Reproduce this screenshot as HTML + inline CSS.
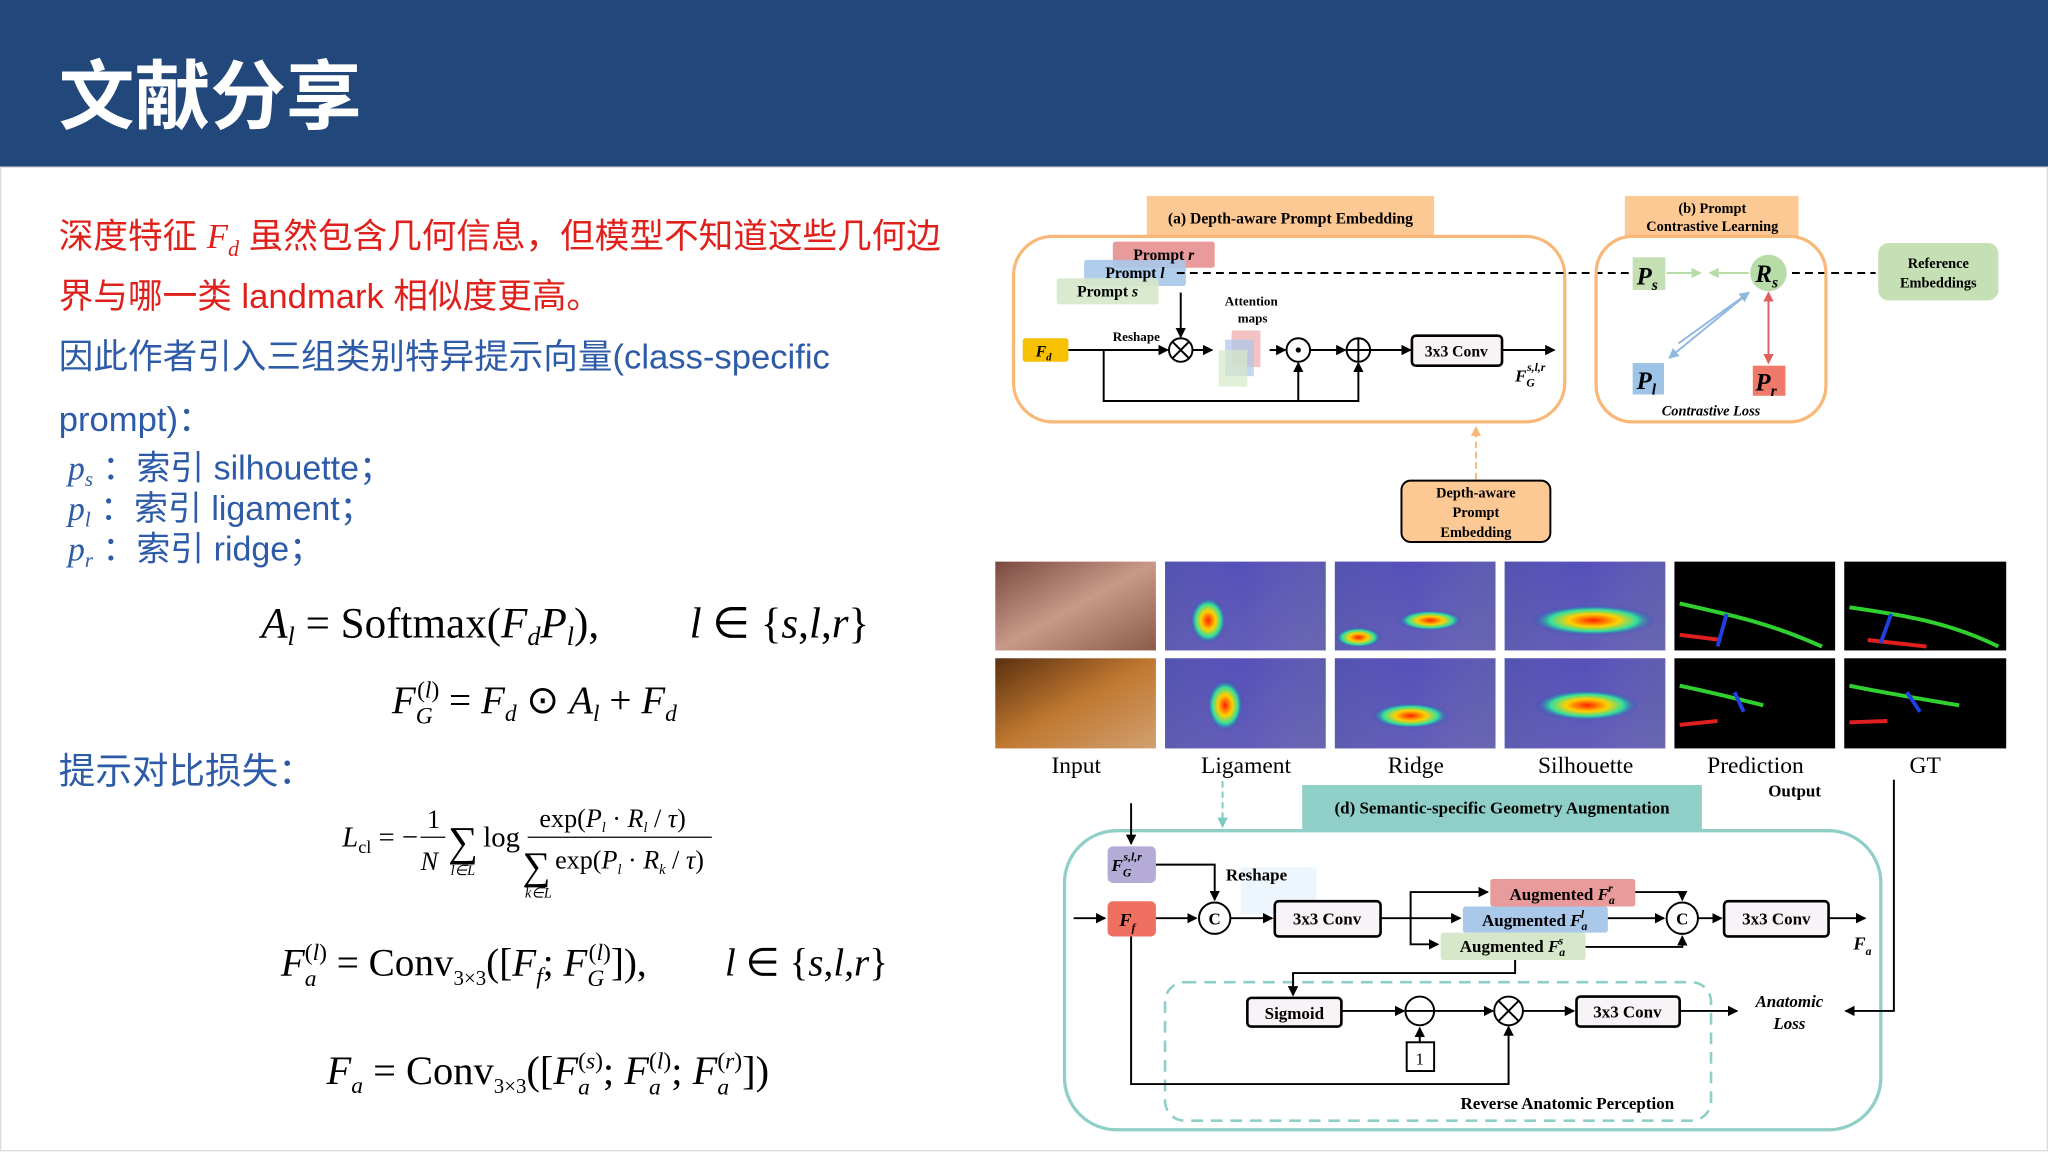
<!DOCTYPE html>
<html><head><meta charset="utf-8"><style>
html,body{margin:0;padding:0;background:#fff;}
svg{display:block;}
.cn{font-family:"Liberation Sans","Noto Sans CJK SC",sans-serif;}
.m{font-family:"Liberation Serif",serif;}
.d{font-family:"Liberation Serif",serif;font-weight:bold;}
</style></head><body>
<svg width="2048" height="1152" viewBox="0 0 1568 882" xmlns="http://www.w3.org/2000/svg">
<defs>
<marker id="ah" markerWidth="8" markerHeight="8" refX="7" refY="4" orient="auto" markerUnits="userSpaceOnUse"><path d="M0,0 L8,4 L0,8 Z" fill="#000"/></marker>
<marker id="ab" markerWidth="8" markerHeight="8" refX="7" refY="4" orient="auto" markerUnits="userSpaceOnUse"><path d="M0,0 L8,4 L0,8 Z" fill="#8fb8e0"/></marker>
<marker id="ar" markerWidth="8" markerHeight="8" refX="7" refY="4" orient="auto" markerUnits="userSpaceOnUse"><path d="M0,0 L8,4 L0,8 Z" fill="#e06060"/></marker>
<marker id="ag" markerWidth="8" markerHeight="8" refX="7" refY="4" orient="auto" markerUnits="userSpaceOnUse"><path d="M0,0 L8,4 L0,8 Z" fill="#b8dca8"/></marker>
<marker id="ao" markerWidth="8" markerHeight="8" refX="7" refY="4" orient="auto" markerUnits="userSpaceOnUse"><path d="M0,0 L8,4 L0,8 Z" fill="#f7b878"/></marker>
<marker id="at" markerWidth="8" markerHeight="8" refX="7" refY="4" orient="auto" markerUnits="userSpaceOnUse"><path d="M0,0 L8,4 L0,8 Z" fill="#7ccac2"/></marker>
<radialGradient id="hot"><stop offset="0" stop-color="#ff2000"/><stop offset="0.4" stop-color="#ffd000"/><stop offset="0.7" stop-color="#30e0a0"/><stop offset="1" stop-color="#3030c0" stop-opacity="0"/></radialGradient>
<linearGradient id="heat" x1="0" y1="0" x2="1" y2="1"><stop offset="0" stop-color="#3a3ab8"/><stop offset="1" stop-color="#5a58b8"/></linearGradient>
<linearGradient id="inp1" x1="0" y1="0" x2="1" y2="1"><stop offset="0" stop-color="#7a4a40"/><stop offset="0.5" stop-color="#c89888"/><stop offset="1" stop-color="#8a5a4a"/></linearGradient>
<linearGradient id="inp2" x1="0" y1="0" x2="1" y2="1"><stop offset="0" stop-color="#5a3010"/><stop offset="0.5" stop-color="#c07830"/><stop offset="1" stop-color="#d0a070"/></linearGradient>
<linearGradient id="tis" x1="0" y1="0" x2="1" y2="0"><stop offset="0" stop-color="#8080a0" stop-opacity="0.35"/><stop offset="0.5" stop-color="#c0a0c0" stop-opacity="0.15"/><stop offset="1" stop-color="#8080a0" stop-opacity="0.35"/></linearGradient>
</defs>
<rect x="0" y="0" width="1568" height="128" fill="#21477b"/>
<text x="45" y="94" class="cn" font-size="58" font-weight="bold" fill="#fff">文献分享</text>
<rect x="0.5" y="128" width="1567" height="753" fill="none" stroke="#ddd" stroke-width="1"/>
<text x="45" y="190" class="cn" font-size="26.5" fill="#e0201b">深度特征 <tspan class="m" font-style="italic">F</tspan><tspan class="m" font-style="italic" font-size="17" dy="6">d</tspan><tspan dy="-6"> 虽然包含几何信息，但模型不知道这些几何边</tspan></text>
<text x="45" y="236" class="cn" font-size="26.5" fill="#e0201b">界与哪一类 landmark 相似度更高。</text>
<text x="45" y="282" class="cn" font-size="26.5" fill="#2e5ba8">因此作者引入三组类别特异提示向量(class-specific</text>
<text x="45" y="330" class="cn" font-size="26.5" fill="#2e5ba8">prompt)：</text>
<g class="cn" font-size="26" fill="#2e5ba8">
<text x="52" y="367"><tspan class="m" font-style="italic">p</tspan><tspan class="m" font-style="italic" font-size="16" dy="5">s</tspan><tspan dy="-5"> ：索引 silhouette；</tspan></text>
<text x="52" y="398"><tspan class="m" font-style="italic">p</tspan><tspan class="m" font-style="italic" font-size="16" dy="5">l</tspan><tspan dy="-5"> ：索引 ligament；</tspan></text>
<text x="52" y="429"><tspan class="m" font-style="italic">p</tspan><tspan class="m" font-style="italic" font-size="16" dy="5">r</tspan><tspan dy="-5"> ：索引 ridge；</tspan></text>
</g>
<text x="45" y="600" class="cn" font-size="28" fill="#2e5ba8">提示对比损失：</text>
<g class="m" fill="#000">
<text x="200" y="488" font-size="33"><tspan font-style="italic">A</tspan><tspan font-style="italic" font-size="20" dy="6">l</tspan><tspan dy="-6"> = Softmax(</tspan><tspan font-style="italic">F</tspan><tspan font-style="italic" font-size="20" dy="6">d</tspan><tspan font-style="italic" dy="-6">P</tspan><tspan font-style="italic" font-size="20" dy="6">l</tspan><tspan dy="-6">),</tspan></text>
<text x="528" y="488" font-size="33"><tspan font-style="italic">l</tspan> ∈ {<tspan font-style="italic">s</tspan>,<tspan font-style="italic">l</tspan>,<tspan font-style="italic">r</tspan>}</text>
<text x="300" y="546" font-size="30"><tspan font-style="italic">F</tspan><tspan font-style="italic" font-size="18" dy="8">G</tspan><tspan font-size="18" dy="-20" dx="-12">(<tspan font-style="italic">l</tspan>)</tspan><tspan dy="12"> = </tspan><tspan font-style="italic">F</tspan><tspan font-style="italic" font-size="18" dy="6">d</tspan><tspan dy="-6"> ⊙ </tspan><tspan font-style="italic">A</tspan><tspan font-style="italic" font-size="18" dy="6">l</tspan><tspan dy="-6"> + </tspan><tspan font-style="italic">F</tspan><tspan font-style="italic" font-size="18" dy="6">d</tspan></text>
<text x="262" y="648" font-size="22"><tspan font-style="italic">L</tspan><tspan font-size="14" dy="5">cl</tspan><tspan dy="-5"> = −</tspan></text>
<text x="327" y="634" font-size="20">1</text>
<line x1="322" y1="641" x2="341" y2="641" stroke="#000" stroke-width="1"/>
<text x="322" y="666" font-size="20" font-style="italic">N</text>
<text x="343" y="655" font-size="32">∑</text>
<text x="345" y="670" font-size="11" font-style="italic">l∈L</text>
<text x="370" y="648" font-size="22">log</text>
<text x="413" y="633" font-size="20">exp(<tspan font-style="italic">P</tspan><tspan font-size="11" font-style="italic" dy="4">l</tspan><tspan dy="-4"> · </tspan><tspan font-style="italic">R</tspan><tspan font-size="11" font-style="italic" dy="4">l</tspan><tspan dy="-4"> / </tspan><tspan font-style="italic">τ</tspan>)</text>
<line x1="404" y1="641" x2="545" y2="641" stroke="#000" stroke-width="1"/>
<text x="400" y="673" font-size="30">∑</text>
<text x="402" y="687" font-size="11" font-style="italic">k∈L</text>
<text x="425" y="665" font-size="20">exp(<tspan font-style="italic">P</tspan><tspan font-size="11" font-style="italic" dy="4">l</tspan><tspan dy="-4"> · </tspan><tspan font-style="italic">R</tspan><tspan font-size="11" font-style="italic" dy="4">k</tspan><tspan dy="-4"> / </tspan><tspan font-style="italic">τ</tspan>)</text>
<text x="215" y="747" font-size="30"><tspan font-style="italic">F</tspan><tspan font-style="italic" font-size="18" dy="8">a</tspan><tspan font-size="18" dy="-20" dx="-9">(<tspan font-style="italic">l</tspan>)</tspan><tspan dy="12"> = Conv</tspan><tspan font-size="16" dy="7">3×3</tspan><tspan dy="-7">([</tspan><tspan font-style="italic">F</tspan><tspan font-style="italic" font-size="18" dy="6">f</tspan><tspan dy="-6">; </tspan><tspan font-style="italic">F</tspan><tspan font-style="italic" font-size="18" dy="8">G</tspan><tspan font-size="18" dy="-20" dx="-12">(<tspan font-style="italic">l</tspan>)</tspan><tspan dy="12">]),</tspan></text>
<text x="555" y="747" font-size="30"><tspan font-style="italic">l</tspan> ∈ {<tspan font-style="italic">s</tspan>,<tspan font-style="italic">l</tspan>,<tspan font-style="italic">r</tspan>}</text>
<text x="250" y="830" font-size="31"><tspan font-style="italic">F</tspan><tspan font-style="italic" font-size="18" dy="7">a</tspan><tspan dy="-7"> = Conv</tspan><tspan font-size="16" dy="7">3×3</tspan><tspan dy="-7">([</tspan><tspan font-style="italic">F</tspan><tspan font-style="italic" font-size="18" dy="8">a</tspan><tspan font-size="18" dy="-20" dx="-9">(<tspan font-style="italic">s</tspan>)</tspan><tspan dy="12">; </tspan><tspan font-style="italic">F</tspan><tspan font-style="italic" font-size="18" dy="8">a</tspan><tspan font-size="18" dy="-20" dx="-9">(<tspan font-style="italic">l</tspan>)</tspan><tspan dy="12">; </tspan><tspan font-style="italic">F</tspan><tspan font-style="italic" font-size="18" dy="8">a</tspan><tspan font-size="18" dy="-20" dx="-9">(<tspan font-style="italic">r</tspan>)</tspan><tspan dy="12">])</tspan></text>
</g>

<rect x="878" y="150" width="220" height="31" fill="#fcc894"/>
<text x="988" y="171" class="d" font-size="12" text-anchor="middle">(a) Depth-aware Prompt Embedding</text>
<rect x="776" y="181" width="422" height="142" rx="30" fill="none" stroke="#f7b878" stroke-width="2.5"/>
<rect x="852" y="185" width="78" height="20" rx="2" fill="#e99b9b"/>
<rect x="830" y="199" width="78" height="20" rx="2" fill="#a9c8ea" opacity="0.9"/>
<rect x="809" y="213" width="78" height="20" rx="2" fill="#d6e8c9" opacity="0.9"/>
<text x="891" y="199" class="d" font-size="12" text-anchor="middle">Prompt <tspan font-style="italic">r</tspan></text>
<text x="869" y="213" class="d" font-size="12" text-anchor="middle">Prompt <tspan font-style="italic">l</tspan></text>
<text x="848" y="227" class="d" font-size="12" text-anchor="middle">Prompt <tspan font-style="italic">s</tspan></text>
<line x1="901" y1="209" x2="1248" y2="209" stroke="#000" stroke-width="1.5" stroke-dasharray="6,4"/>
<line x1="1372" y1="209" x2="1436" y2="209" stroke="#000" stroke-width="1.5" stroke-dasharray="6,4"/>
<rect x="783" y="259" width="35" height="18" rx="2" fill="#f7c000"/>
<text x="793" y="273" class="d" font-size="12" font-style="italic">F<tspan font-size="8" dy="3">d</tspan></text>
<g stroke="#000" stroke-width="1.5" fill="none">
<line x1="818" y1="268" x2="894" y2="268" marker-end="url(#ah)"/>
<line x1="904" y1="224" x2="904" y2="258" marker-end="url(#ah)"/>
<circle cx="904" cy="268" r="9" fill="#fff"/><path d="M898,262 L910,274 M910,262 L898,274"/>
<line x1="913" y1="268" x2="928" y2="268" marker-end="url(#ah)"/>
<line x1="972" y1="268" x2="984" y2="268" marker-end="url(#ah)"/>
<circle cx="994" cy="268" r="9" fill="#fff"/>
<line x1="1003" y1="268" x2="1030" y2="268" marker-end="url(#ah)"/>
<circle cx="1040" cy="268" r="9" fill="#fff"/><path d="M1031,268 H1049 M1040,259 V277"/>
<line x1="1049" y1="268" x2="1080" y2="268" marker-end="url(#ah)"/>
<path d="M845,268 V307 H1040 V278" marker-end="url(#ah)"/>
<line x1="994" y1="307" x2="994" y2="278" marker-end="url(#ah)"/>
<line x1="1150" y1="268" x2="1190" y2="268" marker-end="url(#ah)"/>
<rect x="1081" y="257" width="69" height="23" rx="3" fill="#f7f3f7" stroke-width="2"/>
</g>
<circle cx="994" cy="268" r="2" fill="#000"/>
<rect x="943" y="253" width="22" height="28" fill="#f0a8a8" opacity="0.7"/>
<rect x="938" y="260" width="22" height="28" fill="#a9c8ea" opacity="0.7"/>
<rect x="933" y="268" width="22" height="28" fill="#d6e8c9" opacity="0.7"/>
<text x="870" y="261" class="d" font-size="10" text-anchor="middle">Reshape</text>
<text x="958" y="234" class="d" font-size="10" text-anchor="middle">Attention</text>
<text x="959" y="247" class="d" font-size="10" text-anchor="middle">maps</text>
<text x="1115" y="273" class="d" font-size="12" text-anchor="middle">3x3 Conv</text>
<text x="1160" y="292" class="d" font-size="13" font-style="italic">F<tspan font-size="9" dy="4">G</tspan><tspan font-size="9" dy="-12" dx="-6">s,l,r</tspan></text>
<rect x="1244" y="150" width="133" height="32" fill="#fcc894"/>
<text x="1311" y="163" class="d" font-size="11" text-anchor="middle">(b) Prompt</text>
<text x="1311" y="177" class="d" font-size="11" text-anchor="middle">Contrastive Learning</text>
<rect x="1222" y="181" width="176" height="142" rx="28" fill="none" stroke="#f7b878" stroke-width="2.5"/>
<rect x="1250" y="197" width="25" height="25" fill="#c5dfb4"/>
<text x="1253" y="218" class="d" font-size="19" font-style="italic">P<tspan font-size="12" dy="4">s</tspan></text>
<circle cx="1354" cy="209" r="14" fill="#b8dca8"/>
<text x="1344" y="216" class="d" font-size="19" font-style="italic">R<tspan font-size="12" dy="4">s</tspan></text>
<line x1="1276" y1="209" x2="1302" y2="209" stroke="#b8dca8" stroke-width="1.5" marker-end="url(#ag)"/>
<line x1="1339" y1="209" x2="1309" y2="209" stroke="#b8dca8" stroke-width="1.5" marker-end="url(#ag)"/>
<rect x="1250" y="278" width="24" height="24" fill="#9dc3e6"/>
<text x="1253" y="298" class="d" font-size="19" font-style="italic">P<tspan font-size="12" dy="4">l</tspan></text>
<rect x="1342" y="280" width="25" height="23" fill="#ef7a6a"/>
<text x="1344" y="299" class="d" font-size="19" font-style="italic">P<tspan font-size="12" dy="4">r</tspan></text>
<line x1="1285" y1="263" x2="1339" y2="224" stroke="#8fb8e0" stroke-width="1.5" marker-end="url(#ab)"/>
<line x1="1339" y1="224" x2="1278" y2="274" stroke="#8fb8e0" stroke-width="1.5" marker-end="url(#ab)"/>
<line x1="1354" y1="240" x2="1354" y2="224" stroke="#e06060" stroke-width="1.5" marker-end="url(#ar)"/>
<line x1="1354" y1="240" x2="1354" y2="278" stroke="#e06060" stroke-width="1.5" marker-end="url(#ar)"/>
<text x="1310" y="318" class="m" font-size="11" font-style="italic" font-weight="bold" text-anchor="middle">Contrastive Loss</text>
<rect x="1438" y="186" width="92" height="44" rx="8" fill="#c5e0b4"/>
<text x="1484" y="205" class="d" font-size="11" text-anchor="middle">Reference</text>
<text x="1484" y="220" class="d" font-size="11" text-anchor="middle">Embeddings</text>
<line x1="1130" y1="367" x2="1130" y2="327" stroke="#f7b878" stroke-width="1.5" stroke-dasharray="5,3" marker-end="url(#ao)"/>
<rect x="1073" y="368" width="114" height="47" rx="7" fill="#fcc894" stroke="#000" stroke-width="1.5"/>
<text x="1130" y="381" class="d" font-size="11" text-anchor="middle">Depth-aware</text>
<text x="1130" y="396" class="d" font-size="11" text-anchor="middle">Prompt</text>
<text x="1130" y="411" class="d" font-size="11" text-anchor="middle">Embedding</text>
<rect x="762" y="430" width="123" height="68" fill="url(#inp1)"/>
<rect x="762" y="504" width="123" height="69" fill="url(#inp2)"/>
<g>
<rect x="892" y="430" width="123" height="68" fill="url(#heat)"/><rect x="892" y="430" width="123" height="68" fill="url(#tis)"/><ellipse cx="925" cy="475" rx="14" ry="18" fill="url(#hot)"/>
<rect x="892" y="504" width="123" height="69" fill="url(#heat)"/><rect x="892" y="504" width="123" height="69" fill="url(#tis)"/><ellipse cx="938" cy="540" rx="14" ry="20" fill="url(#hot)"/>
<rect x="1022" y="430" width="123" height="68" fill="url(#heat)"/><rect x="1022" y="430" width="123" height="68" fill="url(#tis)"/><ellipse cx="1040" cy="488" rx="18" ry="8" fill="url(#hot)"/><ellipse cx="1095" cy="475" rx="25" ry="8" fill="url(#hot)"/>
<rect x="1022" y="504" width="123" height="69" fill="url(#heat)"/><rect x="1022" y="504" width="123" height="69" fill="url(#tis)"/><ellipse cx="1080" cy="548" rx="30" ry="10" fill="url(#hot)"/>
<rect x="1152" y="430" width="123" height="68" fill="url(#heat)"/><rect x="1152" y="430" width="123" height="68" fill="url(#tis)"/><ellipse cx="1220" cy="475" rx="48" ry="12" fill="url(#hot)"/>
<rect x="1152" y="504" width="123" height="69" fill="url(#heat)"/><rect x="1152" y="504" width="123" height="69" fill="url(#tis)"/><ellipse cx="1215" cy="540" rx="40" ry="12" fill="url(#hot)"/>
</g>
<g fill="none" stroke-width="3">
<rect x="1282" y="430" width="123" height="68" fill="#000" stroke="none"/>
<path d="M1286,462 C1320,470 1350,475 1395,495" stroke="#30d030"/><path d="M1286,486 L1318,490" stroke="#e02020"/><path d="M1315,495 L1322,470" stroke="#2040e0"/>
<rect x="1412" y="430" width="124" height="68" fill="#000" stroke="none"/>
<path d="M1416,465 C1450,470 1490,475 1530,495" stroke="#30d030"/><path d="M1430,490 L1475,495" stroke="#e02020"/><path d="M1440,492 L1448,470" stroke="#2040e0"/>
<rect x="1282" y="504" width="123" height="69" fill="#000" stroke="none"/>
<path d="M1286,525 C1310,530 1330,535 1350,540" stroke="#30d030"/><path d="M1286,555 L1315,552" stroke="#e02020"/><path d="M1328,530 L1335,545" stroke="#2040e0"/>
<rect x="1412" y="504" width="124" height="69" fill="#000" stroke="none"/>
<path d="M1416,525 C1440,530 1470,535 1500,540" stroke="#30d030"/><path d="M1416,553 L1445,552" stroke="#e02020"/><path d="M1460,530 L1470,545" stroke="#2040e0"/>
</g>
<g class="m" font-size="18" text-anchor="middle">
<text x="824" y="592">Input</text><text x="954" y="592">Ligament</text><text x="1084" y="592">Ridge</text><text x="1214" y="592">Silhouette</text><text x="1344" y="592">Prediction</text><text x="1474" y="592">GT</text>
</g>
<text x="1374" y="610" class="d" font-size="13" text-anchor="middle">Output</text>
<rect x="997" y="601" width="306" height="34" fill="#8fcfc8"/>
<text x="1150" y="623" class="d" font-size="13" text-anchor="middle">(d) Semantic-specific Geometry Augmentation</text>
<rect x="815" y="636" width="625" height="229" rx="40" fill="none" stroke="#8fcfc8" stroke-width="2.5"/>
<line x1="936" y1="598" x2="936" y2="633" stroke="#7ccac2" stroke-width="1.5" stroke-dasharray="5,3" marker-end="url(#at)"/>
<rect x="892" y="752" width="418" height="106" rx="15" fill="none" stroke="#8fcfc8" stroke-width="2" stroke-dasharray="9,6"/>
<rect x="950" y="664" width="58" height="36" fill="#eaf4fd" opacity="0.8"/>
<rect x="848" y="648" width="37" height="28" rx="4" fill="#b4acd6"/>
<text x="851" y="667" class="d" font-size="13" font-style="italic">F<tspan font-size="9" dy="4">G</tspan><tspan font-size="9" dy="-12" dx="-6">s,l,r</tspan></text>
<rect x="848" y="690" width="37" height="27" rx="4" fill="#ef7060"/>
<text x="857" y="709" class="d" font-size="14" font-style="italic">F<tspan font-size="9" dy="4">f</tspan></text>
<rect x="1141" y="673" width="111" height="21" rx="2" fill="#e99b9b"/>
<rect x="1120" y="694" width="111" height="20" rx="2" fill="#a9c8ea"/>
<rect x="1103" y="714" width="111" height="21" rx="2" fill="#d6e8c9"/>
<g class="d" font-size="13" text-anchor="middle">
<text x="1196" y="689">Augmented <tspan font-style="italic">F</tspan><tspan font-style="italic" font-size="9" dy="3">a</tspan><tspan font-style="italic" font-size="9" dy="-9" dx="-5">r</tspan></text>
<text x="1175" y="709">Augmented <tspan font-style="italic">F</tspan><tspan font-style="italic" font-size="9" dy="3">a</tspan><tspan font-style="italic" font-size="9" dy="-9" dx="-5">l</tspan></text>
<text x="1158" y="729">Augmented <tspan font-style="italic">F</tspan><tspan font-style="italic" font-size="9" dy="3">a</tspan><tspan font-style="italic" font-size="9" dy="-9" dx="-5">s</tspan></text>
</g>
<g stroke="#000" stroke-width="1.5" fill="none">
<line x1="866" y1="615" x2="866" y2="646" marker-end="url(#ah)"/>
<line x1="822" y1="703" x2="846" y2="703" marker-end="url(#ah)"/>
<line x1="885" y1="703" x2="916" y2="703" marker-end="url(#ah)"/>
<path d="M885,662 H930 V689" marker-end="url(#ah)"/>
<circle cx="930" cy="703" r="12" fill="#fff"/>
<line x1="942" y1="703" x2="974" y2="703" marker-end="url(#ah)"/>
<rect x="976" y="690" width="81" height="27" rx="3" fill="#f7f3f7" stroke-width="2"/>
<line x1="1057" y1="703" x2="1118" y2="703" marker-end="url(#ah)"/>
<path d="M1080,703 V683 H1139" marker-end="url(#ah)"/>
<path d="M1080,703 V723 H1101" marker-end="url(#ah)"/>
<path d="M1252,683 H1288 V689" marker-end="url(#ah)"/>
<line x1="1231" y1="703" x2="1274" y2="703" marker-end="url(#ah)"/>
<path d="M1214,725 H1288 V717" marker-end="url(#ah)"/>
<circle cx="1288" cy="703" r="12" fill="#fff"/>
<line x1="1300" y1="703" x2="1318" y2="703" marker-end="url(#ah)"/>
<rect x="1320" y="690" width="80" height="27" rx="3" fill="#f7f3f7" stroke-width="2"/>
<line x1="1400" y1="703" x2="1428" y2="703" marker-end="url(#ah)"/>
<path d="M1160,735 V745 H990 V762" marker-end="url(#ah)"/>
<rect x="955" y="764" width="72" height="22" rx="3" fill="#f7f3f7" stroke-width="2"/>
<line x1="1027" y1="774" x2="1075" y2="774" marker-end="url(#ah)"/>
<circle cx="1087" cy="774" r="11" fill="#fff"/><line x1="1076" y1="774" x2="1098" y2="774"/>
<line x1="1087" y1="798" x2="1087" y2="787" marker-end="url(#ah)"/>
<rect x="1077" y="798" width="21" height="22" fill="#fff"/>
<line x1="1098" y1="774" x2="1143" y2="774" marker-end="url(#ah)"/>
<circle cx="1155" cy="774" r="11" fill="#fff"/><path d="M1147,766 L1163,782 M1163,766 L1147,782"/>
<line x1="1166" y1="774" x2="1205" y2="774" marker-end="url(#ah)"/>
<rect x="1207" y="763" width="79" height="23" rx="3" fill="#f7f3f7" stroke-width="2"/>
<line x1="1286" y1="774" x2="1330" y2="774" marker-end="url(#ah)"/>
<path d="M866,717 V830 H1155 V786" marker-end="url(#ah)"/>
<path d="M1450,597 V774 H1413" marker-end="url(#ah)"/>
</g>
<g class="d" font-size="13" text-anchor="middle">
<text x="930" y="708">C</text><text x="1288" y="708">C</text>
<text x="1016" y="708">3x3 Conv</text><text x="1360" y="708">3x3 Conv</text>
<text x="991" y="780">Sigmoid</text><text x="1246" y="779">3x3 Conv</text>
<text x="1087" y="815" font-weight="normal">1</text>
<text x="962" y="674">Reshape</text>
<text x="1200" y="849">Reverse Anatomic Perception</text>
</g>
<text x="1419" y="727" class="d" font-size="14" font-style="italic">F<tspan font-size="9" dy="4">a</tspan></text>
<text x="1370" y="771" class="m" font-size="13" font-style="italic" font-weight="bold" text-anchor="middle">Anatomic</text>
<text x="1370" y="788" class="m" font-size="13" font-style="italic" font-weight="bold" text-anchor="middle">Loss</text>
</svg>
</body></html>
